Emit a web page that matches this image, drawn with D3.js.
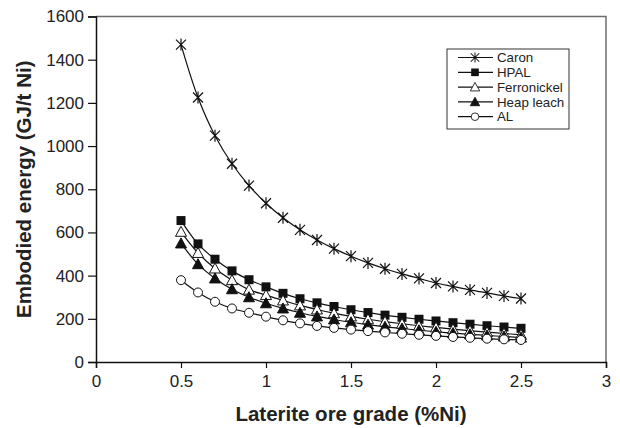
<!DOCTYPE html>
<html>
<head>
<meta charset="utf-8">
<script src="https://cdn.jsdelivr.net/npm/d3@7"></script>
<style>
  body { margin: 0; background: #fff; }
  svg { font-family: "Liberation Sans", Arial, sans-serif; }
</style>
</head>
<body>
<svg id="chart" width="620" height="428"></svg>
<script>
"use strict";

// ore grade (%Ni)
const grades = [0.5, 0.6, 0.7, 0.8, 0.9, 1.0, 1.1, 1.2, 1.3, 1.4, 1.5,
                1.6, 1.7, 1.8, 1.9, 2.0, 2.1, 2.2, 2.3, 2.4, 2.5];

// embodied energy (GJ/t Ni)
const caron       = [1470, 1225, 1048, 918, 817, 735, 668, 612, 565, 525, 490,
                     459, 432, 408, 387, 366, 350, 334, 320, 306, 294];
const hpal        = [655, 547, 476, 422, 381, 348, 318, 293, 274, 257, 242,
                     229, 217, 207, 198, 190, 182, 175, 168, 162, 156];
const ferronickel = [603, 505, 433, 379, 335, 310, 285, 262, 243, 226, 211,
                     198, 187, 177, 168, 160, 152, 145, 138, 132, 126];
const heapLeach   = [549, 453, 387, 337, 300, 272, 248, 228, 211, 197, 184,
                     173, 163, 155, 147, 140, 134, 128, 123, 118, 113];
const al          = [379, 322, 279, 248, 228, 210, 193, 179, 167, 158, 150,
                     143, 137, 131, 126, 121, 116, 112, 108, 105, 102];

const seriesNames = ["Caron", "HPAL", "Ferronickel", "Heap leach", "AL"];
const seriesMarkers = ["star", "square", "triangleOpen", "triangle", "circle"];
const seriesValues = [caron, hpal, ferronickel, heapLeach, al];

const xTicks = [0, 0.5, 1, 1.5, 2, 2.5, 3];
const yTicks = [0, 200, 400, 600, 800, 1000, 1200, 1400, 1600];

const svg = d3.select("#chart");
const margin = {left: 96, right: 14, top: 16.5, bottom: 66};
const width = 620 - margin.left - margin.right;
const height = 428 - margin.top - margin.bottom;

const xScale = d3.scaleLinear().domain([0, 3]).range([0, width]);
const yScale = d3.scaleLinear().domain([0, 1600]).range([height, 0]);

const g = svg.append("g").attr("transform", `translate(${margin.left},${margin.top})`);

// plot box: gray top/right
g.append("path")
  .attr("d", `M0,0H${width}V${height}`)
  .attr("fill", "none").attr("stroke", "#6e6e6e").attr("stroke-width", 1.5);

// axes
const xAxis = g.append("g").attr("transform", `translate(0,${height})`)
  .call(d3.axisBottom(xScale).tickValues(xTicks).tickSize(6).tickPadding(4)
        .tickFormat(d3.format("")));
const yAxis = g.append("g")
  .call(d3.axisLeft(yScale).tickValues(yTicks).tickSize(8).tickPadding(4)
        .tickFormat(d3.format("d")));

[xAxis, yAxis].forEach(ax => {
  ax.select(".domain").attr("stroke", "#111").attr("stroke-width", 1.5);
  ax.selectAll(".tick line").attr("stroke", "#111").attr("stroke-width", 1.2);
  ax.selectAll("text").attr("font-size", 17).attr("fill", "#222")
    .attr("font-family", "Liberation Sans, Arial, sans-serif");
});
xAxis.selectAll("text").attr("dy", "0.9em");

// axis titles
svg.append("text")
  .attr("x", margin.left + xScale(1.5)).attr("y", 421)
  .attr("text-anchor", "middle").attr("font-size", 20.5).attr("font-weight", "bold")
  .attr("fill", "#222").text("Laterite ore grade (%Ni)");

svg.append("text")
  .attr("transform", `translate(31,${margin.top + height / 2}) rotate(-90)`)
  .attr("text-anchor", "middle").attr("font-size", 20.5).attr("font-weight", "bold")
  .attr("fill", "#222").text("Embodied energy (GJ/t Ni)");

/* draw a marker of the given kind into a selection */
function draw_marker(sel, kind) {
  if (kind === "star") {
    sel.append("path")
      .attr("d", "M-5,-5L5,5M-5,5L5,-5M0,-6V6")
      .attr("stroke", "#111").attr("stroke-width", 1.2).attr("fill", "none");
  } else if (kind === "square") {
    sel.append("rect").attr("x", -4.5).attr("y", -4.5).attr("width", 9).attr("height", 9)
      .attr("fill", "#111");
  } else if (kind === "triangleOpen" || kind === "triangle") {
    sel.append("path").attr("d", "M0,-5.5L5.5,4.5H-5.5Z")
      .attr("fill", kind === "triangle" ? "#111" : "#fff")
      .attr("stroke", "#111").attr("stroke-width", 1);
  } else {
    sel.append("circle").attr("r", 4.5)
      .attr("fill", "#fff").attr("stroke", "#111").attr("stroke-width", 1);
  }
}

const line = d3.line()
  .x(d => xScale(d[0])).y(d => yScale(d[1]))
  .curve(d3.curveCatmullRom.alpha(0.5));

// lines first, then markers on top
seriesValues.forEach((vals) => {
  const pts = grades.map((x, i) => [x, vals[i]]);
  g.append("path").datum(pts)
    .attr("d", line).attr("fill", "none")
    .attr("stroke", "#111").attr("stroke-width", 1.2);
});
seriesValues.forEach((vals, s) => {
  const pts = grades.map((x, i) => [x, vals[i]]);
  g.append("g").selectAll("g").data(pts).enter().append("g")
    .attr("transform", d => `translate(${xScale(d[0])},${yScale(d[1])})`)
    .each(function() { draw_marker(d3.select(this), seriesMarkers[s]); });
});

// legend
const legend = svg.append("g").attr("transform", "translate(447,49)");
legend.append("rect").attr("width", 122).attr("height", 80)
  .attr("fill", "#fff").attr("stroke", "#333").attr("stroke-width", 1);
seriesNames.forEach((name, i) => {
  const row = legend.append("g").attr("transform", `translate(0,${8.5 + i * 14.8})`);
  row.append("line").attr("x1", 11).attr("x2", 46)
    .attr("stroke", "#111").attr("stroke-width", 1.2);
  const m = row.append("g").attr("transform", "translate(28,0) scale(0.85)");
  draw_marker(m, seriesMarkers[i]);
  row.append("text").attr("x", 50).attr("y", 0).attr("dy", "0.36em")
    .attr("font-size", 13.3).attr("fill", "#222").text(name);
});
</script>
</body>
</html>
